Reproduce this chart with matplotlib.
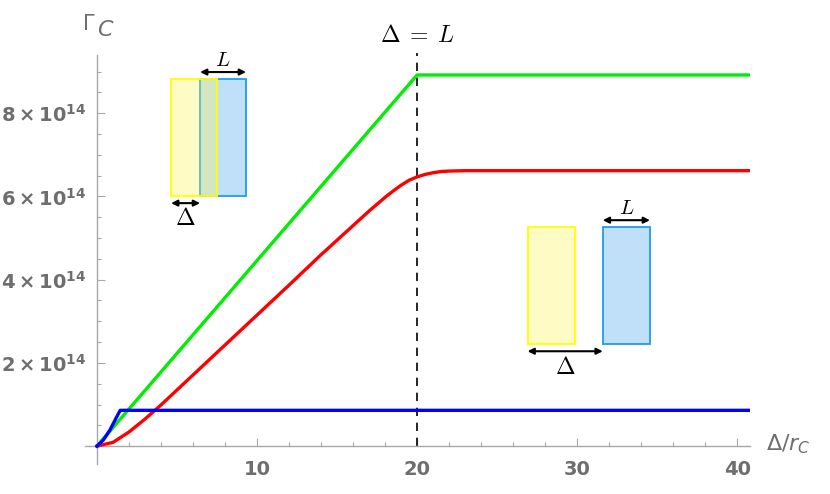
import matplotlib
matplotlib.use("Agg")
import matplotlib.pyplot as plt
from matplotlib.patches import Rectangle
from matplotlib.ticker import FixedLocator, MultipleLocator

# values in units of 1e14
green_x = [0, 20, 41]
green_y = [0, 8.92, 8.92]

red_x = [0, 1, 2, 3, 4, 5, 6, 8, 10, 12, 14, 16, 17, 18, 18.5, 19, 19.5, 20,
         20.5, 21, 21.5, 22, 23, 24, 41]
red_y = [0, 0.09, 0.34, 0.65, 0.99, 1.35, 1.71, 2.43, 3.15, 3.87, 4.6, 5.3,
         5.65, 5.98, 6.13, 6.27, 6.39, 6.47, 6.53, 6.57, 6.6, 6.61, 6.62, 6.62, 6.62]

blue_x = [0, 0.4, 0.8, 1.2, 1.45, 41]
blue_y = [0, 0.15, 0.38, 0.68, 0.86, 0.86]

crossover = 20

x_ticks = [10, 20, 30, 40]
x_tick_labels = ['10', '20', '30', '40']
y_ticks = [2, 4, 6, 8]
y_tick_labels = [r'$\mathbf{%d\times10^{14}}$' % v for v in y_ticks]

GRAY = '#6e6e6e'
AXIS_GRAY = '#a8a8a8'

fig = plt.figure(figsize=(8.3, 4.94), dpi=100)
ax = fig.add_axes([85 / 830, 30 / 494, 665 / 830, 409 / 494])
ax.set_xlim(-0.75, 40.8)
ax.set_ylim(-0.43, 9.4)

for s in ['top', 'right']:
    ax.spines[s].set_visible(False)
for s in ['left', 'bottom']:
    ax.spines[s].set_position(('data', 0))
    ax.spines[s].set_color(AXIS_GRAY)
    ax.spines[s].set_linewidth(1.0)

ax.xaxis.set_major_locator(FixedLocator(x_ticks))
ax.xaxis.set_minor_locator(MultipleLocator(2))
ax.yaxis.set_major_locator(FixedLocator(y_ticks))
ax.yaxis.set_minor_locator(MultipleLocator(0.5))
ax.set_xticklabels(x_tick_labels, fontsize=14, fontweight='bold', color=GRAY)
ax.set_yticklabels(y_tick_labels, fontsize=14, color=GRAY, math_fontfamily='dejavusans')
ax.tick_params(which='major', direction='in', length=5.5, width=0.8, color=AXIS_GRAY, pad=8)
ax.tick_params(which='minor', direction='in', length=3, width=0.8, color=AXIS_GRAY)
ax.tick_params(axis='x', pad=10)

ax.plot(green_x, green_y, color='#00ee00', lw=2.4, solid_capstyle='butt', zorder=3)
ax.plot(red_x, red_y, color='#ff0000', lw=2.4, zorder=3)
ax.plot(blue_x, blue_y, color='#0000ff', lw=2.4, zorder=3)

ax.vlines(crossover, 0, 9.45, colors='black', linestyles=(0, (5, 4)), lw=1.2, zorder=2, clip_on=False)
ax.text(crossover, 9.6, r'$\Delta\;=\;L$', ha='center', va='bottom', fontsize=17,
        math_fontfamily='cm', clip_on=False)

# axis labels, Mathematica style
ax.annotate(r'$\Gamma$', xy=(0, 9.4), xytext=(-11, 15), textcoords='offset points',
            fontsize=15, color=GRAY, ha='left', va='bottom', math_fontfamily='dejavusans',
            annotation_clip=False)
ax.annotate(r'$\mathit{C}$', xy=(0, 9.4), xytext=(0, 11), textcoords='offset points',
            fontsize=16, color=GRAY, ha='left', va='bottom', math_fontfamily='dejavusans',
            annotation_clip=False)
ax.text(41.8, 0.05, r'$\Delta/r_{\mathit{C}}$', fontsize=16, color=GRAY, ha='left', va='center',
        math_fontfamily='dejavusans', clip_on=False)


def box_pair(x0, x1, w, y0, y1, fs):
    ax.add_patch(Rectangle((x1, y0), w, y1 - y0, facecolor='#c0e0fa', edgecolor='#1e9bf0',
                           lw=1.3, zorder=4))
    ax.add_patch(Rectangle((x0, y0), w, y1 - y0, facecolor=(1.0, 0.96, 0.3, 0.33),
                           edgecolor='#ffff00', lw=1.3, zorder=5))
    arr = dict(arrowstyle='<|-|>', color='black', lw=1.5, mutation_scale=9,
               shrinkA=0, shrinkB=0)
    ly = y1 + 0.17
    ax.annotate('', xy=(x1 + w, ly), xytext=(x1, ly), arrowprops=arr, zorder=6)
    ax.text(x1 + w / 2, ly + 0.05, r'$L$', ha='center', va='bottom', fontsize=fs,
            math_fontfamily='cm', zorder=6)
    dy = y0 - 0.17
    ax.annotate('', xy=(x1, dy), xytext=(x0, dy), arrowprops=arr, zorder=6)
    ax.text((x0 + x1) / 2, dy - 0.08, r'$\Delta$', ha='center', va='top', fontsize=fs + 2,
            math_fontfamily='cm', zorder=6)


box_pair(4.63, 6.44, 2.87, 6.01, 8.82, 15)
box_pair(26.9, 31.6, 2.95, 2.45, 5.26, 15)

fig.savefig('out.png', dpi=100, facecolor='white')
